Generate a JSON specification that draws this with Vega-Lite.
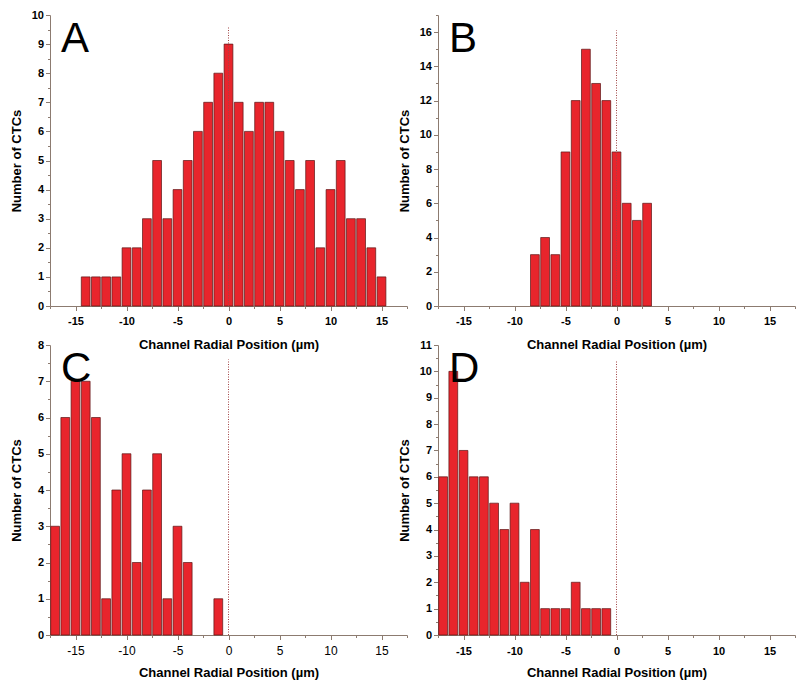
{
  "$schema": "https://vega.github.io/schema/vega-lite/v6.json",
  "background": "white",
  "padding": {"left": 10, "top": 9, "right": 2, "bottom": 5},
  "config": {
    "view": {"stroke": null},
    "scale": {"continuousPadding": 0},
    "axis": {
      "domainColor": "#8c7b70", "tickColor": "#8c7b70", "domainWidth": 1, "tickWidth": 1,
      "labelFont": "Liberation Sans", "labelFontWeight": "bold", "labelFontSize": 11, "labelColor": "#000",
      "titleFont": "Liberation Sans", "titleFontWeight": "bold", "titleFontSize": 13, "titleColor": "#000",
      "grid": false, "tickSize": 4, "labelPadding": 2, "labelBound": false, "labelFlush": false, "labelOverlap": false,
      "tickCount": 100
    },
    "title": {"font": "Liberation Sans", "fontSize": 42, "fontWeight": "normal", "color": "#000", "anchor": "start", "frame": "group", "offset": -52, "dx": 11}
  },
  "datasets": {
    "A": [
      {"pos": -14, "n": 1}, {"pos": -13, "n": 1}, {"pos": -12, "n": 1}, {"pos": -11, "n": 1},
      {"pos": -10, "n": 2}, {"pos": -9, "n": 2}, {"pos": -8, "n": 3}, {"pos": -7, "n": 5},
      {"pos": -6, "n": 3}, {"pos": -5, "n": 4}, {"pos": -4, "n": 5}, {"pos": -3, "n": 6},
      {"pos": -2, "n": 7}, {"pos": -1, "n": 8}, {"pos": 0, "n": 9}, {"pos": 1, "n": 7},
      {"pos": 2, "n": 6}, {"pos": 3, "n": 7}, {"pos": 4, "n": 7}, {"pos": 5, "n": 6},
      {"pos": 6, "n": 5}, {"pos": 7, "n": 4}, {"pos": 8, "n": 5}, {"pos": 9, "n": 2},
      {"pos": 10, "n": 4}, {"pos": 11, "n": 5}, {"pos": 12, "n": 3}, {"pos": 13, "n": 3},
      {"pos": 14, "n": 2}, {"pos": 15, "n": 1}
    ],
    "B": [
      {"pos": -8, "n": 3}, {"pos": -7, "n": 4}, {"pos": -6, "n": 3}, {"pos": -5, "n": 9},
      {"pos": -4, "n": 12}, {"pos": -3, "n": 15}, {"pos": -2, "n": 13}, {"pos": -1, "n": 12},
      {"pos": 0, "n": 9}, {"pos": 1, "n": 6}, {"pos": 2, "n": 5}, {"pos": 3, "n": 6}
    ],
    "C": [
      {"pos": -17, "n": 3}, {"pos": -16, "n": 6}, {"pos": -15, "n": 7}, {"pos": -14, "n": 7},
      {"pos": -13, "n": 6}, {"pos": -12, "n": 1}, {"pos": -11, "n": 4}, {"pos": -10, "n": 5},
      {"pos": -9, "n": 2}, {"pos": -8, "n": 4}, {"pos": -7, "n": 5}, {"pos": -6, "n": 1},
      {"pos": -5, "n": 3}, {"pos": -4, "n": 2}, {"pos": -1, "n": 1}
    ],
    "D": [
      {"pos": -17, "n": 6}, {"pos": -16, "n": 10}, {"pos": -15, "n": 7}, {"pos": -14, "n": 6},
      {"pos": -13, "n": 6}, {"pos": -12, "n": 5}, {"pos": -11, "n": 4}, {"pos": -10, "n": 5},
      {"pos": -9, "n": 2}, {"pos": -8, "n": 4}, {"pos": -7, "n": 1}, {"pos": -6, "n": 1},
      {"pos": -5, "n": 1}, {"pos": -4, "n": 2}, {"pos": -3, "n": 1}, {"pos": -2, "n": 1},
      {"pos": -1, "n": 1}
    ],
    "one": [{}]
  },
  "columns": 2,
  "bounds": "flush",
  "spacing": {"row": 39, "column": 31},
  "concat": [
    {
      "title": {"text": "A"},
      "width": 357, "height": 291,
      "layer": [
        {
          "data": {"name": "A"},
          "mark": {"type": "bar", "width": 8.8, "color": "#e8252c", "stroke": "#5a1515", "strokeWidth": 0.7},
          "encoding": {
            "x": {"field": "pos", "type": "quantitative", "title": "Channel Radial Position (µm)",
              "scale": {"domain": [-17.5, 17.5], "nice": false, "zero": false, "padding": 0},
              "axis": {"values": [-17.5, -15, -12.5, -10, -7.5, -5, -2.5, 0, 2.5, 5, 7.5, 10, 12.5, 15, 17.5],
                "tickCount": 100, "labelOverlap": false, "labelPadding": 5,
                "labelExpr": "datum.value % 5 === 0 ? '' + datum.value : ''",
                "tickSize": {"condition": {"test": "datum.value % 5 !== 0", "value": 2.5}, "value": 4.5},
                "titlePadding": 12}},
            "y": {"field": "n", "type": "quantitative", "title": "Number of CTCs",
              "scale": {"domain": [0, 10], "nice": false},
              "axis": {"values": [0, 0.5, 1, 1.5, 2, 2.5, 3, 3.5, 4, 4.5, 5, 5.5, 6, 6.5, 7, 7.5, 8, 8.5, 9, 9.5, 10],
                "tickCount": 100, "labelOverlap": false,
                "labelExpr": "datum.value % 1 === 0 ? '' + datum.value : ''",
                "tickSize": {"condition": {"test": "datum.value % 1 !== 0", "value": 2.5}, "value": 4.5},
                "titlePadding": 8}}
          }
        },
        {
          "data": {"name": "one"},
          "mark": {"type": "rule", "color": "#a04545", "strokeDash": [1, 1.5], "strokeWidth": 1},
          "encoding": {
            "x": {"datum": 0, "type": "quantitative"},
            "y": {"datum": 0, "type": "quantitative"},
            "y2": {"datum": 9.6}
          }
        }
      ]
    },
    {
      "title": {"text": "B"},
      "width": 357, "height": 291,
      "layer": [
        {
          "data": {"name": "B"},
          "mark": {"type": "bar", "width": 8.8, "color": "#e8252c", "stroke": "#5a1515", "strokeWidth": 0.7},
          "encoding": {
            "x": {"field": "pos", "type": "quantitative", "title": "Channel Radial Position (µm)",
              "scale": {"domain": [-17.5, 17.5], "nice": false, "zero": false, "padding": 0},
              "axis": {"values": [-17.5, -15, -12.5, -10, -7.5, -5, -2.5, 0, 2.5, 5, 7.5, 10, 12.5, 15, 17.5],
                "tickCount": 100, "labelOverlap": false, "labelPadding": 5,
                "labelExpr": "datum.value % 5 === 0 ? '' + datum.value : ''",
                "tickSize": {"condition": {"test": "datum.value % 5 !== 0", "value": 2.5}, "value": 4.5},
                "titlePadding": 12}},
            "y": {"field": "n", "type": "quantitative", "title": "Number of CTCs",
              "scale": {"domain": [0, 17], "nice": false},
              "axis": {"values": [0, 1, 2, 3, 4, 5, 6, 7, 8, 9, 10, 11, 12, 13, 14, 15, 16, 17],
                "tickCount": 100, "labelOverlap": false,
                "labelExpr": "datum.value % 2 === 0 ? '' + datum.value : ''",
                "tickSize": {"condition": {"test": "datum.value % 2 !== 0", "value": 2.5}, "value": 4.5},
                "titlePadding": 8}}
          }
        },
        {
          "data": {"name": "one"},
          "mark": {"type": "rule", "color": "#a04545", "strokeDash": [1, 1.5], "strokeWidth": 1},
          "encoding": {
            "x": {"datum": 0, "type": "quantitative"},
            "y": {"datum": 0, "type": "quantitative"},
            "y2": {"datum": 16.1}
          }
        }
      ]
    },
    {
      "title": {"text": "C"},
      "width": 357, "height": 290,
      "layer": [
        {
          "data": {"name": "C"},
          "mark": {"type": "bar", "width": 8.8, "color": "#e8252c", "stroke": "#5a1515", "strokeWidth": 0.7},
          "encoding": {
            "x": {"field": "pos", "type": "quantitative", "title": "Channel Radial Position (µm)",
              "scale": {"domain": [-17.5, 17.5], "nice": false, "zero": false, "padding": 0},
              "axis": {"values": [-17.5, -15, -12.5, -10, -7.5, -5, -2.5, 0, 2.5, 5, 7.5, 10, 12.5, 15, 17.5],
                "tickCount": 100, "labelOverlap": false, "labelPadding": 6,
                "labelExpr": "datum.value % 5 === 0 ? '' + datum.value : ''",
                "labelFontWeight": "normal", "labelFontSize": 12,
                "tickSize": {"condition": {"test": "datum.value % 5 !== 0", "value": 2.5}, "value": 4.5},
                "titlePadding": 10}},
            "y": {"field": "n", "type": "quantitative", "title": "Number of CTCs",
              "scale": {"domain": [0, 8], "nice": false},
              "axis": {"values": [0, 0.5, 1, 1.5, 2, 2.5, 3, 3.5, 4, 4.5, 5, 5.5, 6, 6.5, 7, 7.5, 8],
                "tickCount": 100, "labelOverlap": false,
                "labelExpr": "datum.value % 1 === 0 ? '' + datum.value : ''",
                "tickSize": {"condition": {"test": "datum.value % 1 !== 0", "value": 2.5}, "value": 4.5},
                "titlePadding": 14}}
          }
        },
        {
          "data": {"name": "one"},
          "mark": {"type": "rule", "color": "#a04545", "strokeDash": [1, 1.5], "strokeWidth": 1},
          "encoding": {
            "x": {"datum": 0, "type": "quantitative"},
            "y": {"datum": 0, "type": "quantitative"},
            "y2": {"datum": 7.6}
          }
        }
      ]
    },
    {
      "title": {"text": "D"},
      "width": 357, "height": 290,
      "layer": [
        {
          "data": {"name": "D"},
          "mark": {"type": "bar", "width": 8.8, "color": "#e8252c", "stroke": "#5a1515", "strokeWidth": 0.7},
          "encoding": {
            "x": {"field": "pos", "type": "quantitative", "title": "Channel Radial Position (µm)",
              "scale": {"domain": [-17.5, 17.5], "nice": false, "zero": false, "padding": 0},
              "axis": {"values": [-17.5, -15, -12.5, -10, -7.5, -5, -2.5, 0, 2.5, 5, 7.5, 10, 12.5, 15, 17.5],
                "tickCount": 100, "labelOverlap": false, "labelPadding": 6,
                "labelExpr": "datum.value % 5 === 0 ? '' + datum.value : ''",
                "tickSize": {"condition": {"test": "datum.value % 5 !== 0", "value": 2.5}, "value": 4.5},
                "titlePadding": 10}},
            "y": {"field": "n", "type": "quantitative", "title": "Number of CTCs",
              "scale": {"domain": [0, 11], "nice": false},
              "axis": {"values": [0, 0.5, 1, 1.5, 2, 2.5, 3, 3.5, 4, 4.5, 5, 5.5, 6, 6.5, 7, 7.5, 8, 8.5, 9, 9.5, 10, 10.5, 11],
                "tickCount": 100, "labelOverlap": false,
                "labelExpr": "datum.value % 1 === 0 ? '' + datum.value : ''",
                "tickSize": {"condition": {"test": "datum.value % 1 !== 0", "value": 2.5}, "value": 4.5},
                "titlePadding": 8}}
          }
        },
        {
          "data": {"name": "one"},
          "mark": {"type": "rule", "color": "#a04545", "strokeDash": [1, 1.5], "strokeWidth": 1},
          "encoding": {
            "x": {"datum": 0, "type": "quantitative"},
            "y": {"datum": 0, "type": "quantitative"},
            "y2": {"datum": 10.4}
          }
        }
      ]
    }
  ]
}
